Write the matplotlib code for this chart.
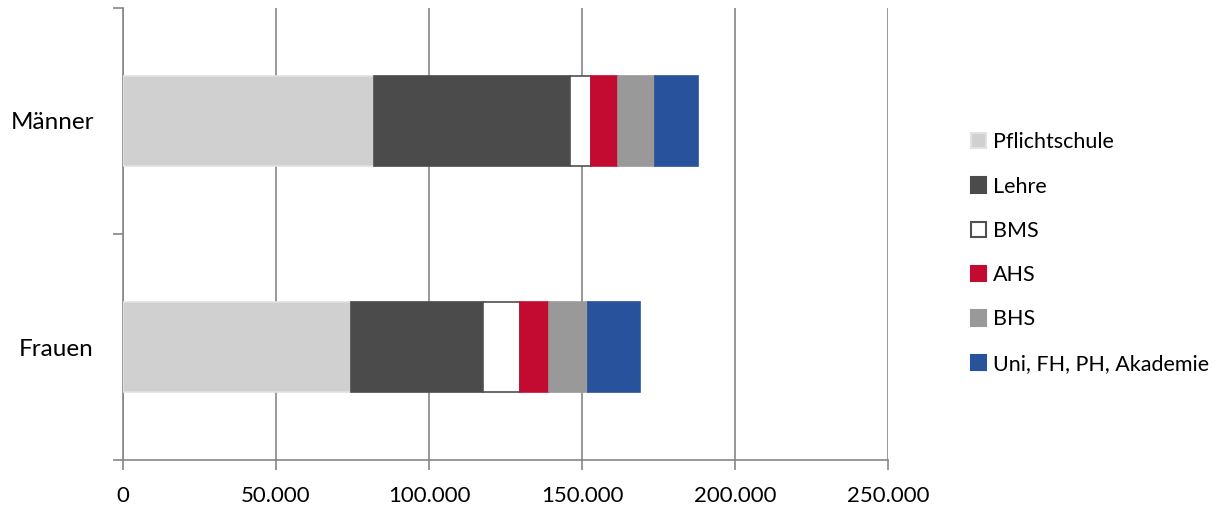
import matplotlib
matplotlib.use("Agg")
import matplotlib.pyplot as plt
from matplotlib.patches import Patch
import numpy as np

categories = ["Frauen", "Männer"]
series_names = ["Pflichtschule", "Lehre", "BMS", "AHS", "BHS", "Uni, FH, PH, Akademie"]
values_frauen = [74400, 43200, 12100, 9400, 12700, 17000]
values_maenner = [82000, 64100, 6700, 9100, 11900, 14200]
x_ticks = [0, 50000, 100000, 150000, 200000, 250000]
x_tick_labels = ["0", "50.000", "100.000", "150.000", "200.000", "250.000"]

colors = ["#d0d0d0", "#4b4b4b", "#ffffff", "#c30b32", "#999999", "#29529c"]
edges = ["#e2e2e2", "#4b4b4b", "#505050", "#c30b32", "#999999", "#29529c"]

plt.rcParams["font.family"] = ["Lato", "DejaVu Sans"]
fig = plt.figure(figsize=(12.17, 5.09), dpi=100)
ax = fig.add_axes([123 / 1217, 1 - 460 / 509, (888 - 123) / 1217, (460 - 8) / 509])

data = np.array([values_frauen, values_maenner])
ypos = np.arange(len(categories))
left = np.zeros(len(categories))
for i, name in enumerate(series_names):
    ax.barh(ypos, data[:, i], left=left, height=0.4, color=colors[i],
            edgecolor=edges[i], linewidth=1.2, label=name, zorder=3)
    left += data[:, i]

ax.set_xlim(0, 250000)
ax.set_ylim(-0.5, 1.5)
ax.set_xticks(x_ticks)
ax.set_xticklabels(x_tick_labels, fontsize=16)
ax.set_yticks(ypos)
ax.set_yticklabels(categories, fontsize=17.5)
ax.set_yticks([-0.5, 0.5, 1.5], minor=True)
ax.tick_params(axis="y", which="major", length=0, pad=21)
ax.tick_params(axis="y", which="minor", length=7, color="#868686", width=1.2)
ax.tick_params(axis="x", which="major", length=7, color="#868686", width=1.2, pad=12)

ax.grid(axis="x", color="#868686", linewidth=1.2, zorder=0)
for s in ["top", "right"]:
    ax.spines[s].set_visible(False)
for s in ["left", "bottom"]:
    ax.spines[s].set_color("#868686")
    ax.spines[s].set_linewidth(1.2)

handles = [Patch(facecolor=colors[i], edgecolor=edges[i], linewidth=1.5, label=series_names[i])
           for i in range(len(series_names))]
leg = fig.legend(handles=handles, loc="center left", bbox_to_anchor=(962 / 1217, 1 - 253 / 509),
                 frameon=False, fontsize=15.5, handlelength=0.72, handleheight=0.72,
                 handletextpad=0.3, labelspacing=1.13, borderaxespad=0)

fig.savefig("out.png", dpi=100)
